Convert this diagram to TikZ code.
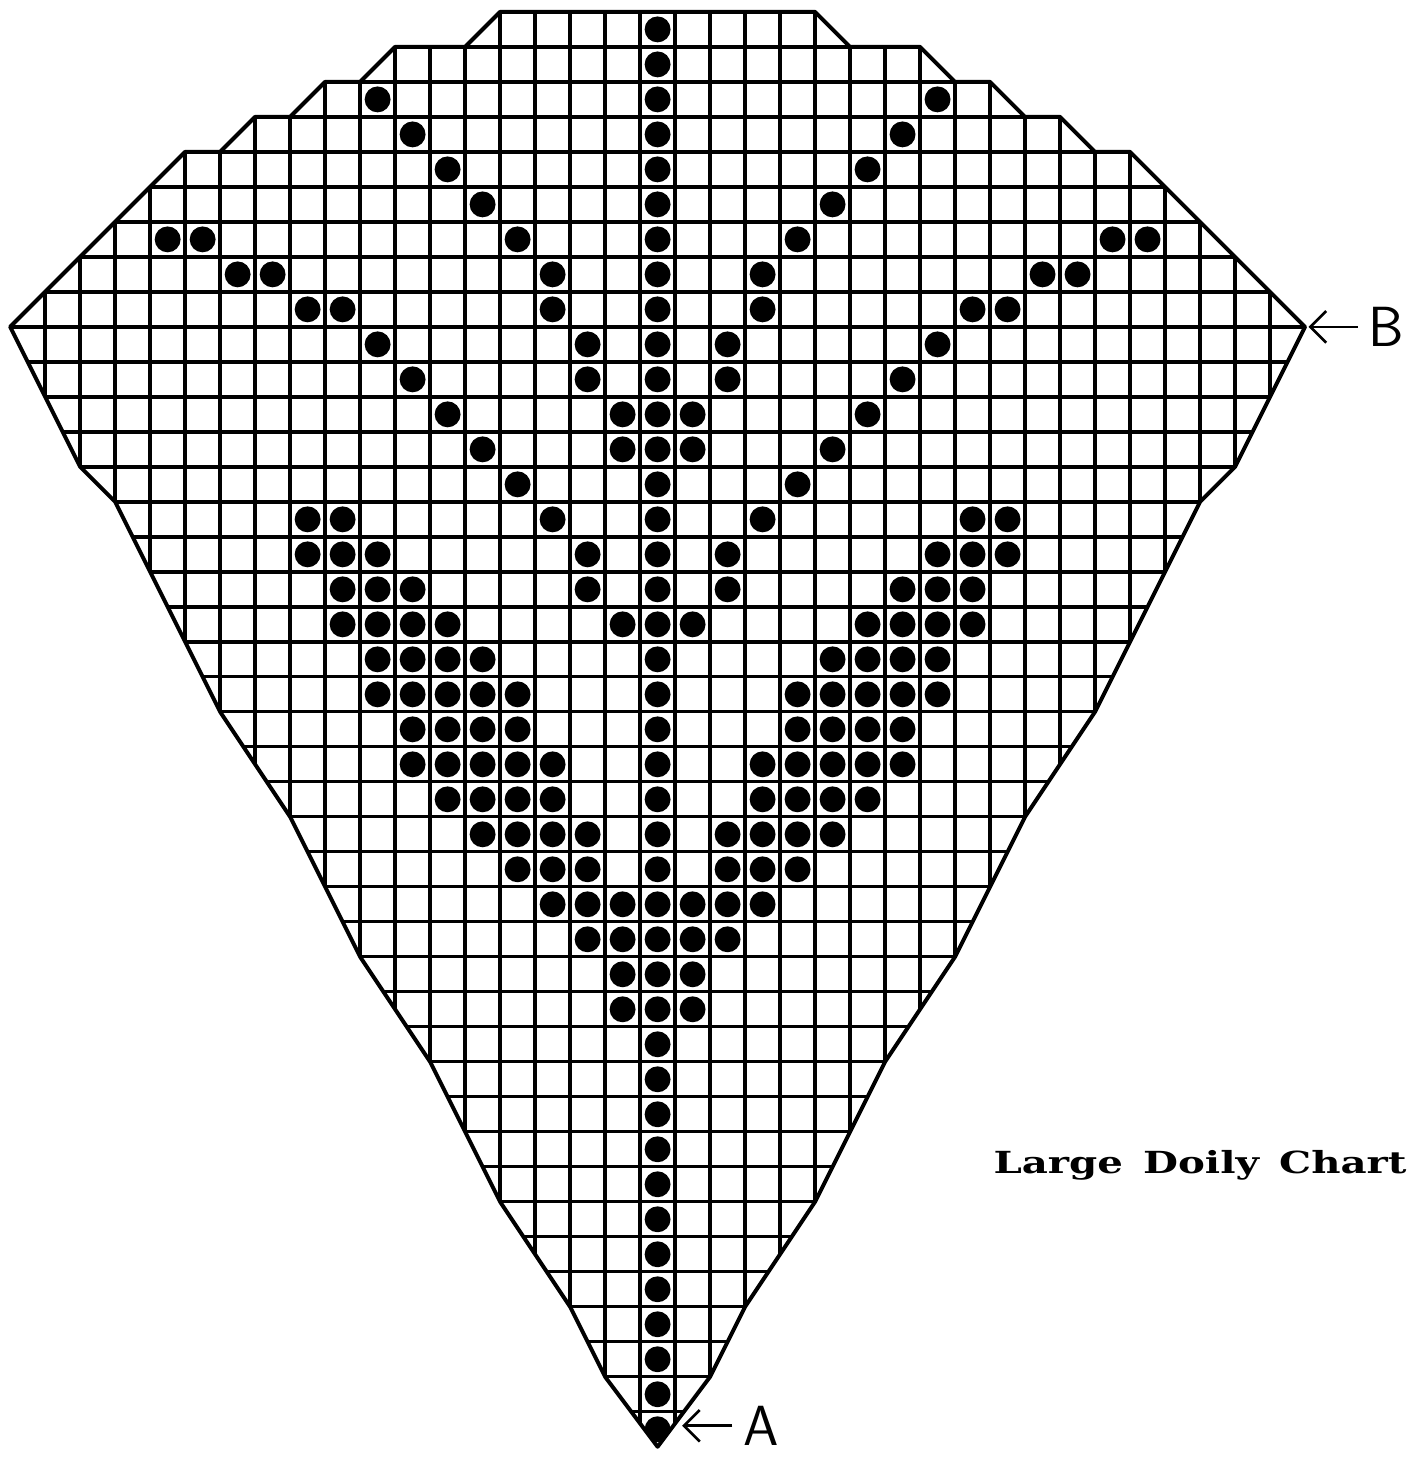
\documentclass[tikz,border=0pt]{standalone}
\usepackage{graphicx}
\usepackage{fontspec}
\newfontfamily\chartfont{DejaVu Serif}
\usetikzlibrary{arrows.meta}

\begin{document}
\begin{tikzpicture}[
    x=1cm, y=-1cm,
    gridline/.style={line width=2.7pt},
    outline/.style={line width=3.2pt, line join=round},
    stitch/.style={fill=black},
    markarrow/.style={-{Straight Barb[length=4.5mm, width=9mm, line width=2.2pt]}, line width=2.2pt},
    letter/.style={inner xsep=0.3cm, inner ysep=0pt, font=\fontsize{46}{46}\selectfont\sffamily},
    title/.style={inner sep=0pt, font=\chartfont\bfseries}
  ]
  \useasboundingbox (-0.29,-0.34) rectangle (40.2,41.35);

  \def\doilyedge{(0,9) -- (5,4) -- (6,4) -- (7,3) -- (8,3) -- (9,2) -- (10,2) -- (11,1) -- (13,1) -- (14,0)
    -- (23,0) -- (24,1) -- (26,1) -- (27,2) -- (28,2) -- (29,3) -- (30,3) -- (31,4) -- (32,4) -- (37,9)
    -- (35,13) -- (34,14) -- (31,20) -- (29,23) -- (27,27) -- (25,30) -- (23,34) -- (21,37) -- (20,39)
    -- (18.5,41) -- (17,39) -- (16,37) -- (14,34) -- (12,30) -- (10,27) -- (8,23) -- (6,20) -- (3,14)
    -- (2,13) -- cycle}

  \begin{scope}
    \clip \doilyedge;
    \foreach \r in {1,...,40} \draw[gridline] (0,\r) -- (37,\r);
    \foreach \c in {1,...,36} \draw[gridline] (\c,0) -- (\c,41);

    \foreach \r in {1,...,41} \fill[stitch] (18.5,\r-0.5) circle (0.37);
    \foreach \r/\cols in {3/{8}, 4/{7}, 5/{6}, 6/{5}, 7/{4,13,14}, 8/{3,11,12}, 9/{3,9,10},
        10/{2,8}, 11/{2,7}, 12/{1,6}, 13/{1,5}, 14/{4}, 15/{3,9,10}, 16/{2,8,9,10},
        17/{2,7,8,9}, 18/{1,6,7,8,9}, 19/{5,6,7,8}, 20/{4,5,6,7,8}, 21/{4,5,6,7},
        22/{3,4,5,6,7}, 23/{3,4,5,6}, 24/{2,3,4,5}, 25/{2,3,4}, 26/{1,2,3}, 27/{1,2},
        28/{1}, 29/{1}} {
      \foreach \c in \cols {
        \fill[stitch] (18.5-\c,\r-0.5) circle (0.37);
        \fill[stitch] (18.5+\c,\r-0.5) circle (0.37);
      }
    }
  \end{scope}
  \draw[outline] \doilyedge;

  \coordinate (tipB) at (37.1,9);
  \coordinate (tipA) at (19.2,40.4);
  \node[letter, anchor=west] (labB) at (38.5,9) {B};
  \node[letter, anchor=west] (labA) at (20.64,40.4) {A};
  \draw[markarrow] (labB) -- (tipB);
  \draw[markarrow] (labA) -- (tipA);

  \node[title, anchor=base] (chart) at (34.0,33.2) {\resizebox{11.8cm}{0.66cm}{Large\hspace{0.5em}Doily\hspace{0.5em}Chart}};
\end{tikzpicture}
\end{document}
